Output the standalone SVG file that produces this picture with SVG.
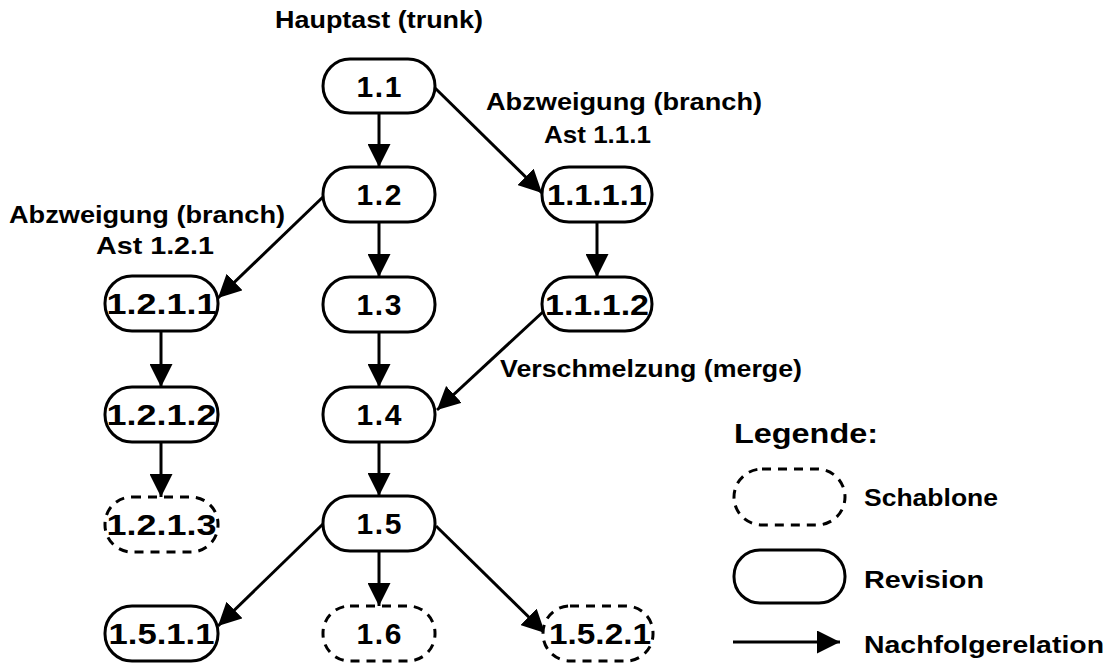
<svg xmlns="http://www.w3.org/2000/svg" width="1105" height="666" viewBox="0 0 1105 666">
  <defs>
    <marker id="arrow" markerUnits="userSpaceOnUse" markerWidth="23" markerHeight="23" refX="23" refY="11.5" orient="auto">
      <path d="M0,0 L23,11.5 L0,23 Z" fill="#000"/>
    </marker>
    <style>
      .rev { fill: #fff; stroke: #000; stroke-width: 3; }
      .tpl { fill: #fff; stroke: #000; stroke-width: 3; stroke-dasharray: 9 7; }
      .edge { stroke: #000; stroke-width: 3; fill: none; marker-end: url(#arrow); }
      .num { font-family: "Liberation Sans", Arial, sans-serif; font-weight: bold; font-size: 30px; fill: #000; text-anchor: middle; }
      .lbl { font-family: "Liberation Sans", Arial, sans-serif; font-weight: bold; font-size: 24px; fill: #000; }
      .title { font-family: "Liberation Sans", Arial, sans-serif; font-weight: bold; font-size: 27px; fill: #000; }
    </style>
  </defs>
  <rect width="1105" height="666" fill="#fff"/>

  <!-- labels -->
  <g id="labels">
    <text class="lbl" x="275" y="28" textLength="208" lengthAdjust="spacingAndGlyphs">Hauptast (trunk)</text>
    <text class="lbl" x="486" y="110" textLength="276" lengthAdjust="spacingAndGlyphs">Abzweigung (branch)</text>
    <text class="lbl" x="544" y="143" textLength="107" lengthAdjust="spacingAndGlyphs">Ast 1.1.1</text>
    <text class="lbl" x="9" y="223" textLength="276" lengthAdjust="spacingAndGlyphs">Abzweigung (branch)</text>
    <text class="lbl" x="96" y="254" textLength="118" lengthAdjust="spacingAndGlyphs">Ast 1.2.1</text>
    <text class="lbl" x="500" y="377" textLength="302" lengthAdjust="spacingAndGlyphs">Verschmelzung (merge)</text>
  </g>

  <!-- connectors -->
  <g id="connectors">
    <line class="edge" x1="379" y1="113" x2="379" y2="167"/>
    <line class="edge" x1="379" y1="222" x2="379" y2="277"/>
    <line class="edge" x1="379" y1="332" x2="379" y2="387"/>
    <line class="edge" x1="379" y1="442" x2="379" y2="496"/>
    <line class="edge" x1="379" y1="551" x2="379" y2="606"/>
    <line class="edge" x1="161" y1="330" x2="161" y2="387"/>
    <line class="edge" x1="161" y1="442" x2="161" y2="497"/>
    <line class="edge" x1="597" y1="222" x2="597" y2="277"/>
    <line class="edge" x1="435" y1="88" x2="542" y2="193"/>
    <line class="edge" x1="324" y1="196" x2="218" y2="298"/>
    <line class="edge" x1="545" y1="310" x2="437" y2="410"/>
    <line class="edge" x1="323" y1="524" x2="218" y2="626"/>
    <line class="edge" x1="436" y1="526" x2="545" y2="633"/>
  </g>

  <!-- revision nodes -->
  <g id="n1_1"><rect class="rev" x="323" y="59" width="112" height="54" rx="27"/><text class="num" x="379" y="97" textLength="45">1.1</text></g>
  <g id="n1_2"><rect class="rev" x="323" y="167" width="112" height="55" rx="27"/><text class="num" x="379" y="205" textLength="45">1.2</text></g>
  <g id="n1_3"><rect class="rev" x="323" y="277" width="112" height="55" rx="27"/><text class="num" x="379" y="315" textLength="45">1.3</text></g>
  <g id="n1_4"><rect class="rev" x="323" y="387" width="112" height="55" rx="27"/><text class="num" x="379" y="425" textLength="45">1.4</text></g>
  <g id="n1_5"><rect class="rev" x="323" y="496" width="112" height="55" rx="27"/><text class="num" x="379" y="534" textLength="45">1.5</text></g>
  <g id="n1_6"><rect class="tpl" x="323" y="606" width="112" height="55" rx="27"/><text class="num" x="379" y="644" textLength="45">1.6</text></g>

  <g id="n1_2_1_1"><rect class="rev" x="105" y="276" width="113" height="55" rx="27"/><text class="num" x="161.5" y="314" textLength="110" lengthAdjust="spacingAndGlyphs">1.2.1.1</text></g>
  <g id="n1_2_1_2"><rect class="rev" x="105" y="387" width="113" height="55" rx="27"/><text class="num" x="161.5" y="425" textLength="110" lengthAdjust="spacingAndGlyphs">1.2.1.2</text></g>
  <g id="n1_2_1_3"><rect class="tpl" x="105" y="497" width="113" height="55" rx="27"/><text class="num" x="161.5" y="535" textLength="110" lengthAdjust="spacingAndGlyphs">1.2.1.3</text></g>
  <g id="n1_5_1_1"><rect class="rev" x="105" y="606" width="113" height="55" rx="27"/><text class="num" x="161.5" y="644" textLength="106" lengthAdjust="spacingAndGlyphs">1.5.1.1</text></g>

  <g id="n1_1_1_1"><rect class="rev" x="542" y="167" width="110" height="55" rx="27"/><text class="num" x="597" y="205" textLength="100" lengthAdjust="spacingAndGlyphs">1.1.1.1</text></g>
  <g id="n1_1_1_2"><rect class="rev" x="542" y="277" width="110" height="54" rx="27"/><text class="num" x="597" y="315" textLength="104" lengthAdjust="spacingAndGlyphs">1.1.1.2</text></g>
  <g id="n1_5_2_1"><rect class="tpl" x="543" y="606" width="110" height="55" rx="27"/><text class="num" x="600" y="644" textLength="102" lengthAdjust="spacingAndGlyphs">1.5.2.1</text></g>

  <!-- legend -->
  <g id="legend">
    <text class="title" x="734" y="443" textLength="144" lengthAdjust="spacingAndGlyphs">Legende:</text>
    <rect class="tpl" x="734" y="469" width="111" height="56" rx="28"/>
    <text class="lbl" x="864" y="506" textLength="134" lengthAdjust="spacingAndGlyphs">Schablone</text>
    <rect class="rev" x="734" y="550" width="111" height="53" rx="26"/>
    <text class="lbl" x="864" y="588" textLength="120" lengthAdjust="spacingAndGlyphs">Revision</text>
    <line class="edge" x1="733" y1="642" x2="840" y2="642"/>
    <text class="lbl" x="864" y="653" textLength="240" lengthAdjust="spacingAndGlyphs">Nachfolgerelation</text>
  </g>
</svg>
